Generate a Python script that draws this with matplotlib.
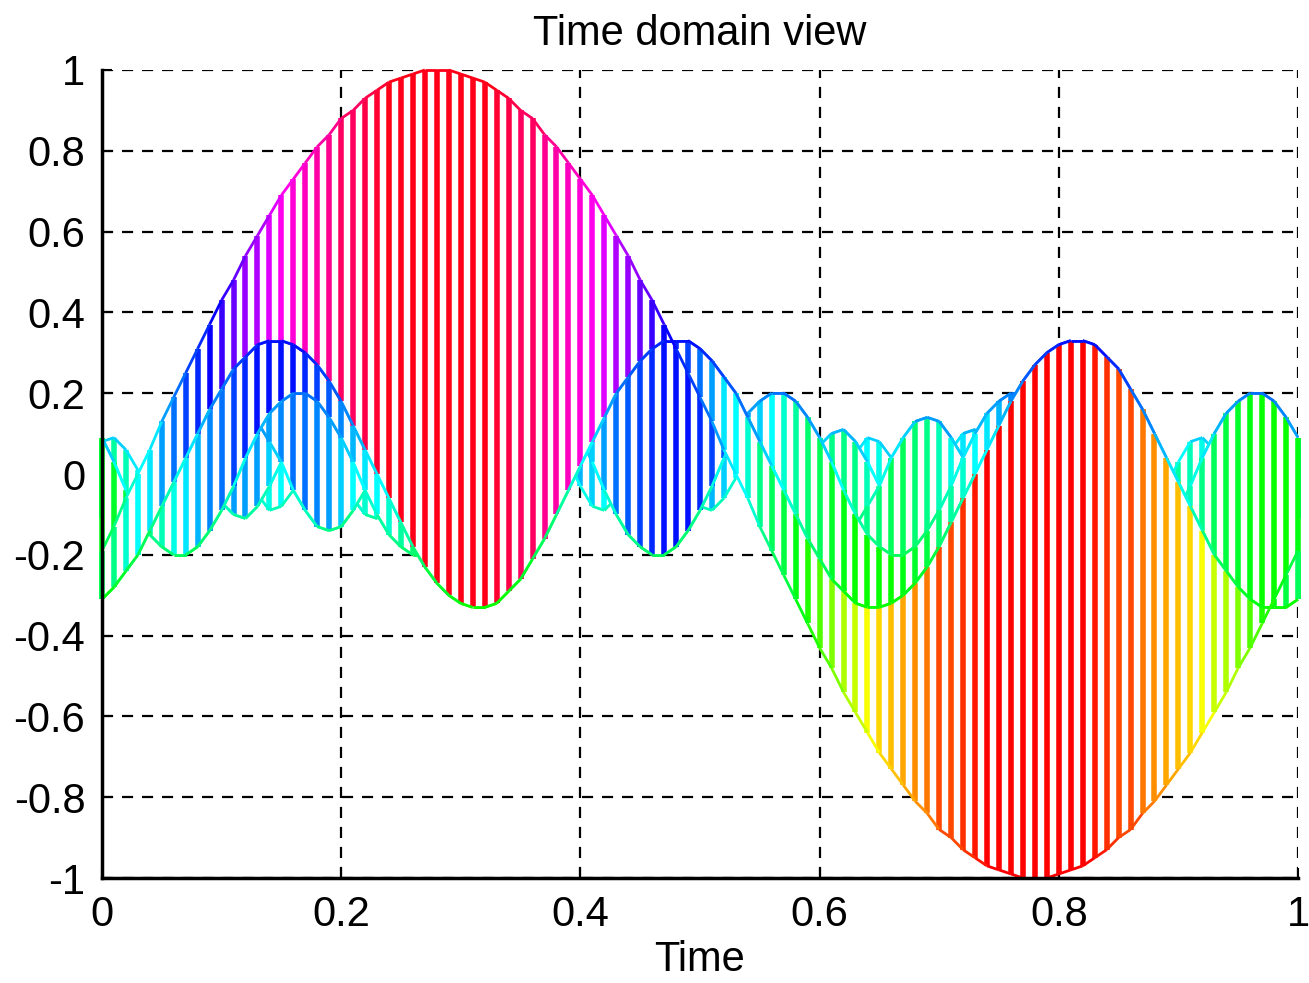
import numpy as np
import matplotlib
matplotlib.use("Agg")
import matplotlib.pyplot as plt
from matplotlib.collections import LineCollection
from matplotlib.colors import hsv_to_rgb

plt.rcParams['font.family'] = ['Liberation Sans', 'DejaVu Sans']

# time samples (0 .. 1, step 0.01)
time = np.linspace(0, 1, 101)

# harmonic components, front row first
h1 = [-0.19, -0.13, -0.06, 0.00, 0.06, 0.13, 0.19, 0.25, 0.31, 0.37,
      0.43, 0.48, 0.54, 0.59, 0.64, 0.69, 0.73, 0.77, 0.81, 0.84,
      0.88, 0.90, 0.93, 0.95, 0.97, 0.98, 0.99, 1.00, 1.00, 1.00,
      0.99, 0.98, 0.97, 0.95, 0.93, 0.90, 0.88, 0.84, 0.81, 0.77,
      0.73, 0.69, 0.64, 0.59, 0.54, 0.48, 0.43, 0.37, 0.31, 0.25,
      0.19, 0.13, 0.06, 0.00, -0.06, -0.13, -0.19, -0.25, -0.31, -0.37,
      -0.43, -0.48, -0.54, -0.59, -0.64, -0.69, -0.73, -0.77, -0.81, -0.84,
      -0.88, -0.90, -0.93, -0.95, -0.97, -0.98, -0.99, -1.00, -1.00, -1.00,
      -0.99, -0.98, -0.97, -0.95, -0.93, -0.90, -0.88, -0.84, -0.81, -0.77,
      -0.73, -0.69, -0.64, -0.59, -0.54, -0.48, -0.43, -0.37, -0.31, -0.25,
      -0.19]
h3 = [-0.31, -0.28, -0.24, -0.20, -0.14, -0.08, -0.02, 0.04, 0.10, 0.16,
      0.21, 0.26, 0.29, 0.32, 0.33, 0.33, 0.32, 0.30, 0.27, 0.23,
      0.18, 0.12, 0.06, 0.00, -0.06, -0.12, -0.18, -0.23, -0.27, -0.30,
      -0.32, -0.33, -0.33, -0.32, -0.29, -0.26, -0.21, -0.16, -0.10, -0.04,
      0.02, 0.08, 0.14, 0.20, 0.24, 0.28, 0.31, 0.33, 0.33, 0.33,
      0.31, 0.28, 0.24, 0.20, 0.14, 0.08, 0.02, -0.04, -0.10, -0.16,
      -0.21, -0.26, -0.29, -0.32, -0.33, -0.33, -0.32, -0.30, -0.27, -0.23,
      -0.18, -0.12, -0.06, 0.00, 0.06, 0.12, 0.18, 0.23, 0.27, 0.30,
      0.32, 0.33, 0.33, 0.32, 0.29, 0.26, 0.21, 0.16, 0.10, 0.04,
      -0.02, -0.08, -0.14, -0.20, -0.24, -0.28, -0.31, -0.33, -0.33, -0.33,
      -0.31]
h5 = [0.09, 0.03, -0.04, -0.10, -0.15, -0.18, -0.20, -0.20, -0.18, -0.14,
      -0.09, -0.03, 0.04, 0.10, 0.15, 0.18, 0.20, 0.20, 0.18, 0.14,
      0.09, 0.03, -0.04, -0.10, -0.15, -0.18, -0.20, -0.20, -0.18, -0.14,
      -0.09, -0.03, 0.04, 0.10, 0.15, 0.18, 0.20, 0.20, 0.18, 0.14,
      0.09, 0.03, -0.04, -0.10, -0.15, -0.18, -0.20, -0.20, -0.18, -0.14,
      -0.09, -0.03, 0.04, 0.10, 0.15, 0.18, 0.20, 0.20, 0.18, 0.14,
      0.09, 0.03, -0.04, -0.10, -0.15, -0.18, -0.20, -0.20, -0.18, -0.14,
      -0.09, -0.03, 0.04, 0.10, 0.15, 0.18, 0.20, 0.20, 0.18, 0.14,
      0.09, 0.03, -0.04, -0.10, -0.15, -0.18, -0.20, -0.20, -0.18, -0.14,
      -0.09, -0.03, 0.04, 0.10, 0.15, 0.18, 0.20, 0.20, 0.18, 0.14,
      0.09]
h7 = [0.07, 0.01, -0.05, -0.10, -0.14, -0.14, -0.12, -0.08, -0.02, 0.04,
      0.10, 0.13, 0.14, 0.13, 0.08, 0.03, -0.04, -0.09, -0.13, -0.14,
      -0.13, -0.09, -0.04, 0.03, 0.08, 0.13, 0.14, 0.13, 0.10, 0.04,
      -0.02, -0.08, -0.12, -0.14, -0.14, -0.10, -0.05, 0.01, 0.07, 0.12,
      0.14, 0.14, 0.11, 0.06, 0.00, -0.06, -0.11, -0.14, -0.14, -0.12,
      -0.07, -0.01, 0.05, 0.10, 0.14, 0.14, 0.12, 0.08, 0.02, -0.04,
      -0.10, -0.13, -0.14, -0.13, -0.08, -0.03, 0.04, 0.09, 0.13, 0.14,
      0.13, 0.09, 0.04, -0.03, -0.08, -0.13, -0.14, -0.13, -0.10, -0.04,
      0.02, 0.08, 0.12, 0.14, 0.14, 0.10, 0.05, -0.01, -0.07, -0.12,
      -0.14, -0.14, -0.11, -0.06, 0.00, 0.06, 0.11, 0.14, 0.14, 0.12,
      0.07]
h9 = [-0.11, -0.11, -0.08, -0.02, 0.04, 0.09, 0.11, 0.10, 0.05, -0.01,
      -0.07, -0.10, -0.11, -0.08, -0.03, 0.03, 0.09, 0.11, 0.10, 0.06,
      0.00, -0.06, -0.10, -0.11, -0.09, -0.03, 0.03, 0.08, 0.11, 0.10,
      0.07, 0.01, -0.05, -0.10, -0.11, -0.09, -0.04, 0.02, 0.08, 0.11,
      0.11, 0.07, 0.01, -0.05, -0.09, -0.11, -0.09, -0.05, 0.01, 0.07,
      0.11, 0.11, 0.08, 0.02, -0.04, -0.09, -0.11, -0.10, -0.05, 0.01,
      0.07, 0.10, 0.11, 0.08, 0.03, -0.03, -0.09, -0.11, -0.10, -0.06,
      0.00, 0.06, 0.10, 0.11, 0.09, 0.03, -0.03, -0.08, -0.11, -0.10,
      -0.07, -0.01, 0.05, 0.10, 0.11, 0.09, 0.04, -0.02, -0.08, -0.11,
      -0.11, -0.07, -0.01, 0.05, 0.09, 0.11, 0.09, 0.05, -0.01, -0.07,
      -0.11]
h11 = [0.08, 0.09, 0.06, 0.01, -0.05, -0.09, -0.08, -0.04, 0.02, 0.07,
       0.09, 0.07, 0.01, -0.05, -0.09, -0.08, -0.04, 0.02, 0.07, 0.09,
       0.07, 0.02, -0.04, -0.08, -0.09, -0.05, 0.01, 0.07, 0.09, 0.07,
       0.02, -0.04, -0.08, -0.09, -0.05, 0.01, 0.06, 0.09, 0.08, 0.03,
       -0.03, -0.08, -0.09, -0.06, 0.00, 0.06, 0.09, 0.08, 0.03, -0.03,
       -0.08, -0.09, -0.06, -0.01, 0.05, 0.09, 0.08, 0.04, -0.02, -0.07,
       -0.09, -0.07, -0.01, 0.05, 0.09, 0.08, 0.04, -0.02, -0.07, -0.09,
       -0.07, -0.02, 0.04, 0.08, 0.09, 0.05, -0.01, -0.07, -0.09, -0.07,
       -0.02, 0.04, 0.08, 0.09, 0.05, -0.01, -0.06, -0.09, -0.08, -0.03,
       0.03, 0.08, 0.09, 0.06, 0.00, -0.06, -0.09, -0.08, -0.03, 0.03,
       0.08]

rows = [h1, h3, h5, h7, h9, h11]

xticks = [0, 0.2, 0.4, 0.6, 0.8, 1]
xlabels = ['0', '0.2', '0.4', '0.6', '0.8', '1']
yticks = [-1, -0.8, -0.6, -0.4, -0.2, 0, 0.2, 0.4, 0.6, 0.8, 1]
ylabels = ['-1', '-0.8', '-0.6', '-0.4', '-0.2', '0', '0.2', '0.4', '0.6', '0.8', '1']

STEM_LW = 4.0
ROW_LW = 2.0


def hsv64(z):
    # matlab style hsv(64) colormap, limits -1..1
    idx = np.clip(np.floor((np.asarray(z) + 1) / 2 * 64), 0, 63)
    one = np.ones_like(idx)
    return hsv_to_rgb(np.column_stack([idx / 64, one, one]))


fig = plt.figure(figsize=(13.09, 9.83), dpi=100)
ax = fig.add_axes([0.0779, 0.1068, 0.9137, 0.822])


def row_line(z, zo):
    z = np.asarray(z)
    pts = np.column_stack([time, z])
    segs = np.stack([pts[:-1], pts[1:]], axis=1)
    ax.add_collection(LineCollection(segs, colors=hsv64(z[:-1]), linewidths=ROW_LW,
                                     zorder=zo, clip_on=False))


def band(za, zb, zo):
    za, zb = np.asarray(za), np.asarray(zb)
    ax.fill_between(time, za, zb, color='white', lw=0, zorder=zo)
    segs = np.stack([np.column_stack([time, za]), np.column_stack([time, zb])], axis=1)
    ax.add_collection(LineCollection(segs, colors=hsv64(za), linewidths=STEM_LW,
                                     zorder=zo + 0.01, clip_on=False))
    row_line(zb, zo + 0.02)
    row_line(za, zo + 0.03)


# far rows first, front row last
for k in range(len(rows) - 2, -1, -1):
    band(rows[k], rows[k + 1], 1.0 + 0.1 * (len(rows) - k))

ax.set_xlim(0, 1)
ax.set_ylim(-1, 1)
ax.set_xticks(xticks)
ax.set_xticklabels(xlabels)
ax.set_yticks(yticks)
ax.set_yticklabels(ylabels)
ax.set_axisbelow(True)
ax.grid(True, color='black', linestyle=(0, (5, 4)), linewidth=1.6)
ax.tick_params(direction='in', length=7, width=1.5, labelsize=30, pad=12)
for s in ['top', 'right']:
    ax.spines[s].set_visible(False)
for s in ['left', 'bottom']:
    ax.spines[s].set_linewidth(2.5)
    ax.spines[s].set_zorder(5)

ax.set_title('Time domain view', fontsize=30, pad=18)
ax.set_xlabel('Time', fontsize=30, labelpad=4)

fig.savefig('out.png', dpi=100)
